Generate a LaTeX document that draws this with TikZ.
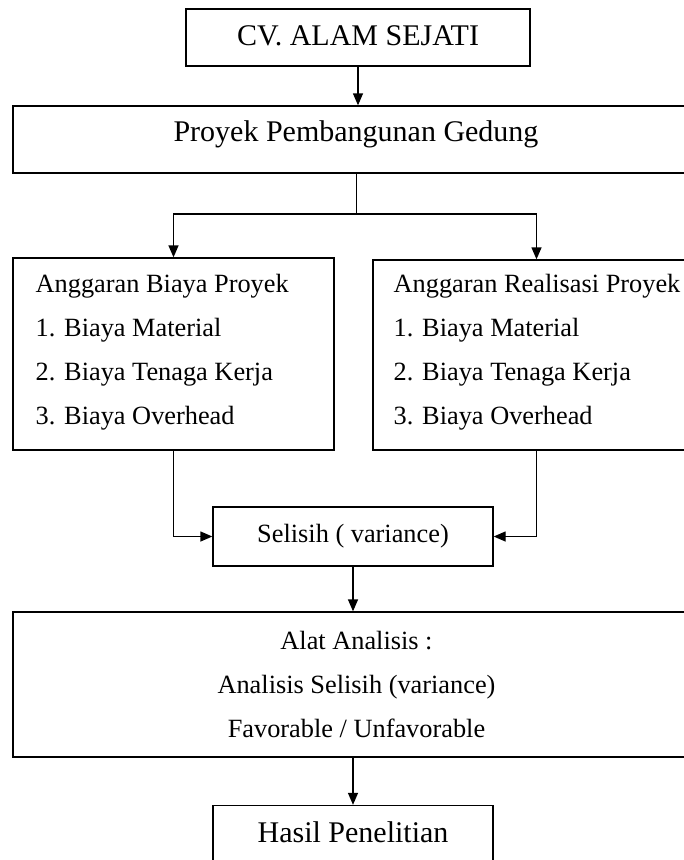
\documentclass[tikz,border=0pt]{standalone}
\usepackage{fontspec}
\setmainfont{Liberation Serif}
\usetikzlibrary{arrows.meta}

\begin{document}
\begin{tikzpicture}[x=0.75pt, y=-0.75pt,
  box/.style={draw, line width=1pt, inner sep=0pt},
  link/.style={line width=1pt},
  arr/.style={line width=1pt, -{Triangle[length=9pt, width=7.5pt]}},
  title/.style={font=\fontsize{22.5}{27}\selectfont},
  body/.style={font=\fontsize{19.75}{33}\selectfont}]
\useasboundingbox (0,0) rectangle (684,860);
\clip (0,0) rectangle (684,860);
\node[box, title, minimum width=258pt, minimum height=42.75pt, text depth=0.25em] (cv) at (358,37.5) {CV. ALAM SEJATI};
\node[box, minimum width=515.25pt, minimum height=50.25pt] (proyek) at (356.5,139.5) {};
\node[title, anchor=base] (proyektxt) at (356,141) {Proyek Pembangunan Gedung};
\draw[arr] (cv.south) -- (cv.south |- proyek.north);
\node[box, minimum width=240.75pt, minimum height=144pt] (biaya) at (173.5,354) {};
\node[body, align=left, anchor=base west] (biayatxt) at (31,424) {Anggaran Biaya Proyek\\1. Biaya Material\\2. Biaya Tenaga Kerja\\3. Biaya Overhead};
\node[box, minimum width=245.25pt, minimum height=142.5pt] (realisasi) at (536.5,355) {};
\node[body, align=left, anchor=base west] (realisasitxt) at (389,424) {Anggaran Realisasi Proyek\\1. Biaya Material\\2. Biaya Tenaga Kerja\\3. Biaya Overhead};
\coordinate (split) at (356.5,214);
\draw[link] (proyek.south) -- (split);
\draw[arr] (split) -| (biaya);
\draw[arr] (split) -| (realisasi);
\node[box, body, minimum width=210pt, minimum height=44.25pt, text depth=0.5em] (selisih) at (353,536.5) {Selisih ( variance)};
\draw[arr] (biaya.south) |- (selisih.west);
\draw[arr] (realisasi.south) |- (selisih.east);
\node[box, body, align=center, minimum width=515.25pt, minimum height=108.75pt] (alat) at (356.5,684.5) {Alat Analisis :\\Analisis Selisih (variance)\\Favorable / Unfavorable};
\draw[arr] (selisih.south) -- (selisih.south |- alat.north);
\node[box, title, minimum width=210pt, minimum height=44.25pt, text depth=0.5em] (hasil) at (353,835) {Hasil Penelitian};
\draw[arr] (hasil.north |- alat.south) -- (hasil.north);
\end{tikzpicture}
\end{document}
